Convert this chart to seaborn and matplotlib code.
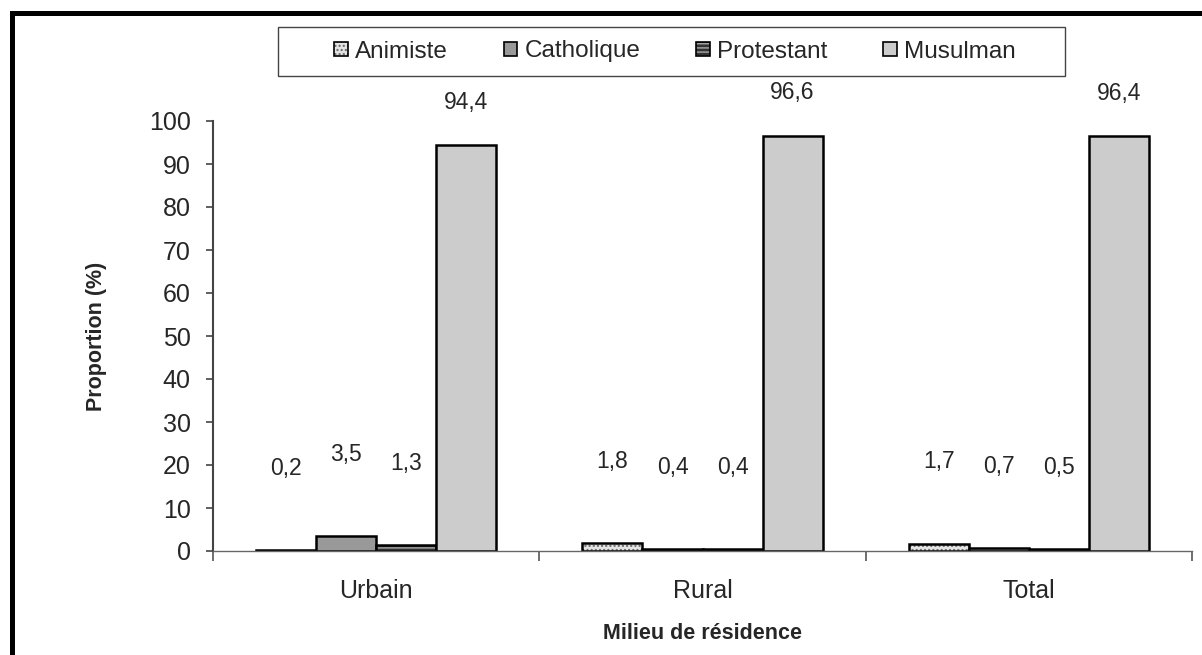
import matplotlib
matplotlib.use("Agg")
import matplotlib.pyplot as plt
import matplotlib.colors as mcolors
from matplotlib.patches import Patch, Rectangle
from matplotlib.lines import Line2D
import pandas as pd
import seaborn as sns

# données
milieux = ["Urbain", "Rural", "Total"]
religions = ["Animiste", "Catholique", "Protestant", "Musulman"]
animiste = [0.2, 1.8, 1.7]
catholique = [3.5, 0.4, 0.7]
protestant = [1.3, 0.4, 0.5]
musulman = [94.4, 96.6, 96.4]

couleurs = ["#e4e4e4", "#999999", "#333333", "#cccccc"]
hachures = ["....", None, "----", None]
couleurs_hachures = ["#666666", None, "#aaaaaa", None]

rows = []
for rel, vals in zip(religions, [animiste, catholique, protestant, musulman]):
    for m, v in zip(milieux, vals):
        rows.append({"Milieu": m, "Religion": rel, "Proportion": v})
df = pd.DataFrame(rows)

sns.set_style("white")
plt.rcParams["font.family"] = ["Liberation Sans", "DejaVu Sans"]
plt.rcParams["hatch.linewidth"] = 1.0

W, H = 1202, 655
fig = plt.figure(figsize=(W / 100, H / 100), dpi=100)
ax = fig.add_axes([213 / W, 1 - 551 / H, 979 / W, 430 / H])

sns.barplot(data=df, x="Milieu", y="Proportion", hue="Religion",
            order=milieux, hue_order=religions, palette=couleurs,
            width=0.736, edgecolor="black", linewidth=1.8, saturation=1,
            legend=False, ax=ax)

for cont, hatch, hc in zip(ax.containers, hachures, couleurs_hachures):
    for bar in cont:
        if hatch:
            bar.set_hatch(hatch)
            bar._hatch_color = mcolors.to_rgba(hc)
        v = bar.get_height()
        off = 10 if v > 50 else 19
        ax.text(bar.get_x() + bar.get_width() / 2, v + off,
                f"{v:.1f}".replace(".", ","), ha="center", va="center",
                fontsize=16.5, clip_on=False)

ax.set_xlim(-0.5, 2.5)
ax.set_ylim(0, 100)
ax.set_yticks(range(0, 101, 10))
ax.set_xticks([-0.5, 0.5, 1.5, 2.5], minor=True)
for s in ["top", "right"]:
    ax.spines[s].set_visible(False)
ax.spines["left"].set_color("#444444")
ax.spines["left"].set_linewidth(1.5)
ax.spines["bottom"].set_color("#666666")
ax.spines["bottom"].set_linewidth(1.0)
ax.tick_params(axis="y", left=True, length=5, width=1.2, color="#444444",
               pad=11, labelsize=18)
ax.tick_params(axis="x", which="major", length=0, pad=20, labelsize=18)
ax.tick_params(axis="x", which="minor", bottom=True, length=7, width=1.2,
               color="#555555")

ax.set_xlabel("Milieu de résidence", fontsize=15.5, fontweight="bold")
ax.set_ylabel("Proportion (%)", fontsize=15.5, fontweight="bold")
ax.xaxis.set_label_coords(0.5, -0.168)
ax.yaxis.set_label_coords(-0.108, 0.5)

# légende horizontale dans un cadre
fig.add_artist(Rectangle((278 / W, 1 - 76 / H), 787 / W, 49 / H,
                         transform=fig.transFigure, facecolor="white",
                         edgecolor="#444444", linewidth=1.0))
handles = [Patch(facecolor=c, edgecolor="black", hatch=h, linewidth=1.2)
           for c, h in zip(couleurs, hachures)]
leg = fig.legend(handles, religions, loc="center",
                 bbox_to_anchor=(675 / W, 1 - 51.5 / H), ncol=4,
                 frameon=False, fontsize=17.5, handlelength=0.55,
                 handleheight=0.55, handletextpad=0.3, columnspacing=2.3)
for p, hc in zip(leg.get_patches(), couleurs_hachures):
    if hc:
        p._hatch_color = mcolors.to_rgba(hc)

# cadre noir épais autour de la figure
fig.add_artist(Line2D([11.5 / W, 11.5 / W], [0, 1 - 12.5 / H],
                      transform=fig.transFigure, color="black", linewidth=3.6,
                      solid_capstyle="projecting"))
fig.add_artist(Line2D([11.5 / W, 1], [1 - 12.5 / H, 1 - 12.5 / H],
                      transform=fig.transFigure, color="black", linewidth=3.6,
                      solid_capstyle="projecting"))

fig.savefig("out.png", dpi=100)
